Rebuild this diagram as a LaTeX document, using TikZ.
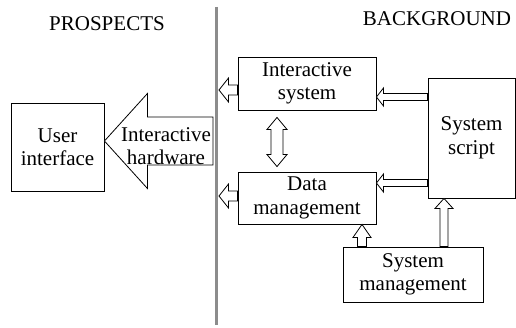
\documentclass[tikz,border=0pt]{standalone}
\usepackage{fontspec}
\setmainfont{Liberation Serif}
\usetikzlibrary{calc}
\tikzset{
  box/.style={draw, line width=0.9pt, align=center, inner sep=0pt,
    font=\fontsize{21}{23.5}\selectfont},
  lbl/.style={font=\fontsize{21}{23.5}\selectfont, inner sep=0pt},
  blockarr/.style={draw, fill=white, line width=0.8pt, line join=miter},
}
% left-pointing block arrow: #1 tail, #2 tip, #3 shaft half, #4 head half, #5 head length
\newcommand\leftblock[5]{%
  \path[blockarr] let \p1=(#1), \p2=(#2) in
    (\x2,\y2) -- (\x2+#5pt,\y2+#4pt) -- (\x2+#5pt,\y2+#3pt) -- (\x1,\y2+#3pt)
    -- (\x1,\y2-#3pt) -- (\x2+#5pt,\y2-#3pt) -- (\x2+#5pt,\y2-#4pt) -- cycle;}
% up-pointing block arrow
\newcommand\upblock[5]{%
  \path[blockarr] let \p1=(#1), \p2=(#2) in
    (\x2,\y2) -- (\x2-#4pt,\y2-#5pt) -- (\x2-#3pt,\y2-#5pt) -- (\x2-#3pt,\y1)
    -- (\x2+#3pt,\y1) -- (\x2+#3pt,\y2-#5pt) -- (\x2+#4pt,\y2-#5pt) -- cycle;}
% vertical double block arrow: #1 top tip, #2 bottom tip
\newcommand\dblblock[5]{%
  \path[blockarr] let \p1=(#1), \p2=(#2) in
    (\x1,\y1) -- (\x1+#4pt,\y1-#5pt) -- (\x1+#3pt,\y1-#5pt) -- (\x1+#3pt,\y2+#5pt)
    -- (\x1+#4pt,\y2+#5pt) -- (\x1,\y2) -- (\x1-#4pt,\y2+#5pt) -- (\x1-#3pt,\y2+#5pt)
    -- (\x1-#3pt,\y1-#5pt) -- (\x1-#4pt,\y1-#5pt) -- cycle;}
\begin{document}
\begin{tikzpicture}[x=1pt,y=-1pt]
\useasboundingbox (0,0) rectangle (516,328);
% divider
\coordinate (divtop) at (216,7);
\coordinate (divbot) at (216,325);
\draw[line width=3pt, black!45] (divtop) -- (divbot);
% titles
\node[lbl] (prospects) at (107,24) {PROSPECTS};
\node[lbl] (background) at (437,19) {BACKGROUND};
% boxes
\node[box, minimum width=93pt, minimum height=88pt] (ui) at (57.5,147) {User\\interface};
\node[box, minimum width=138pt, minimum height=53pt] (isys) at (307,83.5) {Interactive\\system};
\node[box, minimum width=138pt, minimum height=52pt] (dm) at (307,198) {Data\\management};
\node[box, minimum width=87pt, minimum height=120pt] (ss) at (471.5,138) {System\\script};
\node[box, minimum width=140pt, minimum height=55pt] (sm) at (413,274.5) {System\\management};
% big arrow: interactive hardware
\coordinate (hwtail) at (213,141);
\coordinate (hwtip) at ($(ui.east)+(0,-6)$);
\leftblock{hwtail}{hwtip}{24}{47.5}{43}
\node[lbl, align=center] (hw) at (166,146) {Interactive\\hardware};
% arrows to divider
\coordinate (istip) at (219,90);
\leftblock{$(isys.west)+(0,6.5)$}{istip}{5}{12}{9.5}
\coordinate (dmtip) at (219,196);
\leftblock{$(dm.west)+(0,-2)$}{dmtip}{5}{12}{9.5}
% system script to boxes
\leftblock{$(ss.west)+(0,-41)$}{$(isys.east)+(0,13.5)$}{3.5}{9}{7}
\leftblock{$(ss.west)+(0,45)$}{$(dm.east)+(0,-15)$}{3.5}{9}{7}
% system management up arrows
\upblock{sm.north -| 362,0}{dm.south -| 362,0}{4.5}{9}{13}
\upblock{sm.north -| 444,0}{ss.south -| 444,0}{4}{9}{10}
% double arrow
\dblblock{$(isys.south -| 277,0)+(0,7)$}{$(dm.north -| 277,0)+(0,-5)$}{6}{10}{12}
\end{tikzpicture}
\end{document}
